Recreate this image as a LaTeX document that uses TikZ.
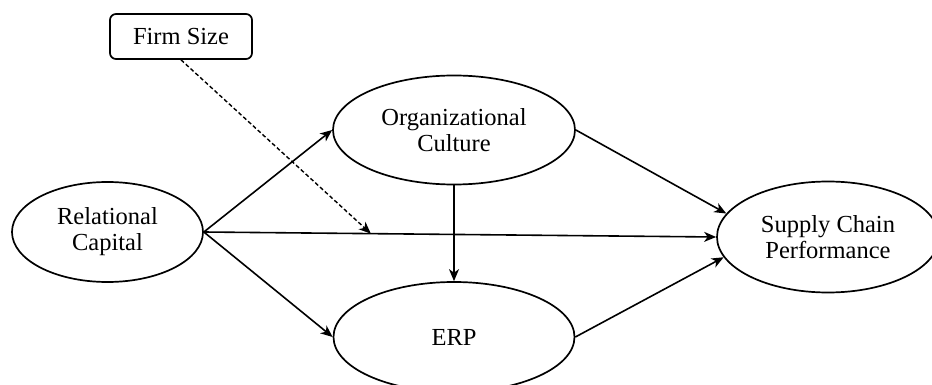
\documentclass[tikz,border=0pt]{standalone}
\usepackage{fontspec}
\setmainfont{Liberation Serif}
\usetikzlibrary{shapes.geometric,arrows.meta}
\begin{document}
\begin{tikzpicture}[x=1pt,y=-1pt,
  every node/.style={font=\fontsize{24.5}{26}\selectfont, align=center, inner sep=0pt},
  construct/.style={draw, line width=1.7pt, ellipse},
  modbox/.style={draw, line width=1.7pt, rounded corners=6pt, minimum width=142pt, minimum height=45pt},
  path/.style={line width=1.6pt, -{Stealth[length=12pt,width=10pt,inset=3.5pt]}},
  modpath/.style={line width=1.4pt, dash pattern=on 4pt off 2.5pt, -{Stealth[length=12pt,width=10pt,inset=3.5pt]}}
]
\clip (0,0) rectangle (932,385);
\node[modbox] (fs) at (181,36.5) {Firm Size};
\node[construct, minimum width=242pt, minimum height=109pt] (oc) at (454,130) {Organizational\\Culture};
\node[construct, minimum width=191pt, minimum height=100pt] (rc) at (107.5,232) {Relational\\Capital};
\node[construct, minimum width=241pt, minimum height=110pt] (erp) at (454,337) {ERP};
\node[construct, minimum width=222pt, minimum height=111pt] (scp) at (828,237) {Supply Chain\\Performance};
\draw[path] (rc.east) -- (oc.west);
\draw[path] (rc.east) -- (erp.west);
\draw[path] (rc.east) -- (scp.west) coordinate[pos=0.326] (mid);
\draw[path] (oc.south) -- (erp.north);
\draw[path] (oc.east) -- (scp.167);
\draw[path] (erp.east) -- (scp.191);
\draw[modpath] (fs.south) -- (mid);
\end{tikzpicture}
\end{document}
